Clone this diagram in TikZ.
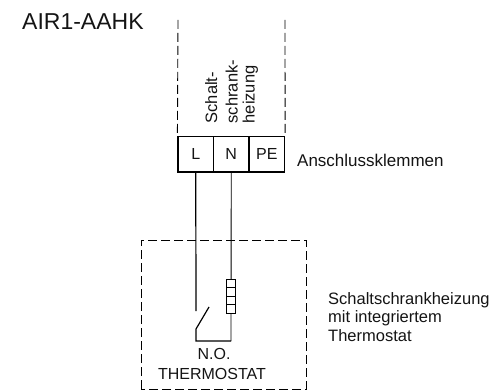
\documentclass[tikz,border=0pt]{standalone}
\usepackage{fontspec}
\setmainfont{Liberation Sans}
\tikzset{
  px/.style={x=1pt,y=-1pt},
  txt/.style={inner sep=0pt,text=black!92},
  big/.style={font=\fontsize{16}{18}\selectfont},
  rot/.style={txt,rotate=90,anchor=base west,font=\fontsize{16.5}{18}\selectfont},
  thick line/.style={line width=1.2pt,black},
  thin line/.style={line width=0.9pt,black},
  dash line/.style={line width=0.9pt,black,dash pattern=on 9pt off 4pt},
  term/.style={draw,line width=1.2pt,minimum width=35.5pt,minimum height=35.5pt,inner sep=0pt,text=black!92,font=\fontsize{16}{18}\selectfont},
  res/.style={draw,line width=1.2pt,fill=white,minimum width=9pt,minimum height=8.5pt,inner sep=0pt},
}
\begin{document}
\begin{tikzpicture}[px]
\useasboundingbox (0,0) rectangle (495,390);
\node[txt,anchor=base west,font=\fontsize{23}{25}\selectfont] (title) at (22,30) {AIR1-AAHK};
\node[term] (L) at (195.75,154.25) {L};
\node[term] (N) at (231.25,154.25) {N};
\node[term] (PE) at (266.75,154.25) {PE};
\coordinate (ltop) at (178,20);
\coordinate (rtop) at (285,20);
\draw[dash line] (ltop) -- (L.north west);
\draw[dash line] (rtop) -- (PE.north east);
\node[rot] (s1) at (217,123.5) {Schalt-};
\node[rot] (s2) at (237.5,123.5) {schrank-};
\node[rot] (s3) at (254.5,123.5) {heizung};
\node[txt,anchor=base west,font=\fontsize{17}{19}\selectfont] (ak) at (297,167) {Anschlussklemmen};
\draw[dash line] (141,389) -- (141,240) -- (306,240) -- (306,389) -- cycle;
\coordinate (swtop) at (196,311);
\coordinate (swb) at (196,341);
\coordinate (nb) at (231,341);
\coordinate (swm) at (196,329);
\coordinate (swt) at (209,307);
\draw[thick line] (L.south) -- (swtop);
\draw[thin line] (N.south) -- (nb);
\draw[thick line] (swt) -- (swm) -- (swb) -- (nb);
\node[res] (r1) at (231,283.5) {};
\node[res] (r2) at (231,292) {};
\node[res] (r3) at (231,300.5) {};
\node[res] (r4) at (231,309) {};
\node[txt,big] (no) at (214,354) {N.O.};
\node[txt,big] (th) at (212,374) {THERMOSTAT};
\node[txt,anchor=base west,font=\fontsize{16.5}{18}\selectfont] (d1) at (328,304) {Schaltschrankheizung};
\node[txt,anchor=base west,font=\fontsize{16.5}{18}\selectfont] (d2) at (328,322.5) {mit integriertem};
\node[txt,anchor=base west,font=\fontsize{16.5}{18}\selectfont] (d3) at (328,341) {Thermostat};
\end{tikzpicture}
\end{document}
